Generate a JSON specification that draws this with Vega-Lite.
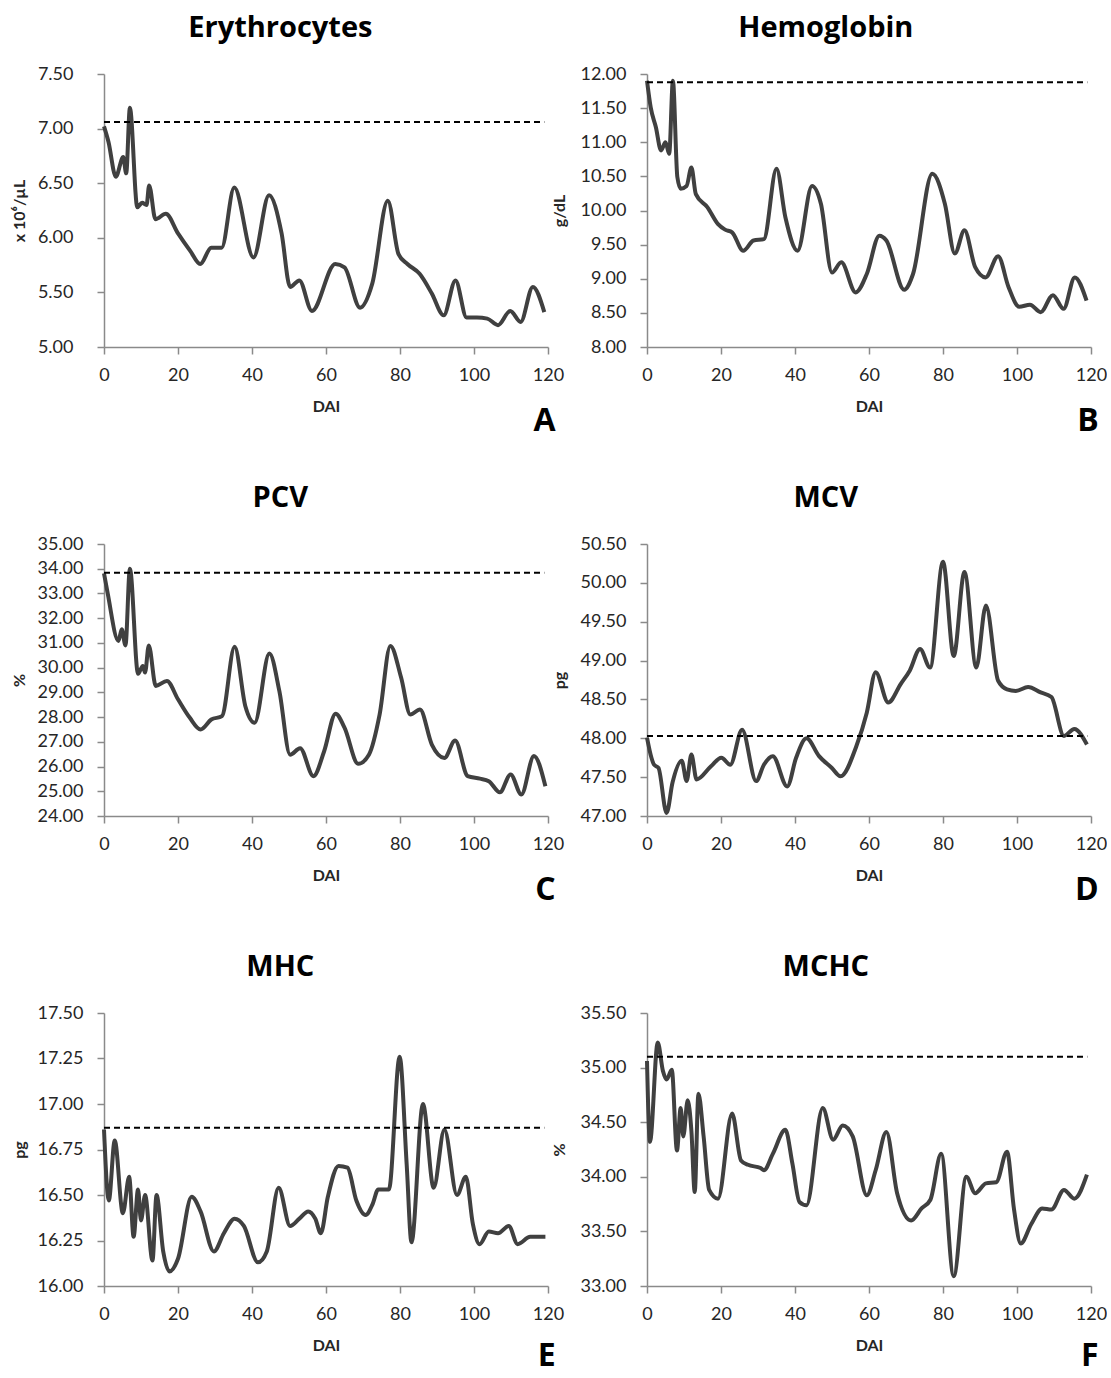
{
  "$schema": "https://vega.github.io/schema/vega-lite/v6.json",
  "padding": {"left": 11, "top": 14, "right": 0, "bottom": 5},
  "background": "white",
  "config": {
    "font": "Lato",
    "view": {"stroke": null},
    "axis": {"grid": false, "labelFlush": false, "domainColor": "#8a8a8a", "domainWidth": 1.5, "tickColor": "#8a8a8a", "tickWidth": 1.5, "tickSize": 7,
      "labelFont": "Lato", "labelFontSize": 18, "labelColor": "#262626",
      "titleFont": "Lato", "titleFontSize": 16, "titleFontWeight": "bold", "titleColor": "#262626"},
    "axisX": {"labelPadding": 12, "titlePadding": 14},
    "axisY": {"labelPadding": 14},
    "title": {"font": "Open Sans", "fontSize": 29, "fontWeight": "bold", "color": "#000000"}
  },
  "datasets": {
    "series": [
      {"panel":"A","day":0,"value":7.02},{"panel":"A","day":1.2,"value":6.88},{"panel":"A","day":3.2,"value":6.56},{"panel":"A","day":5.2,"value":6.74},{"panel":"A","day":6,"value":6.59},{"panel":"A","day":7,"value":7.19},{"panel":"A","day":9,"value":6.28},{"panel":"A","day":10.3,"value":6.32},{"panel":"A","day":11.5,"value":6.3},{"panel":"A","day":12.2,"value":6.48},{"panel":"A","day":13.9,"value":6.17},{"panel":"A","day":16.7,"value":6.22},{"panel":"A","day":20,"value":6.04},{"panel":"A","day":23.3,"value":5.88},{"panel":"A","day":26,"value":5.76},{"panel":"A","day":29,"value":5.91},{"panel":"A","day":31.8,"value":5.91},{"panel":"A","day":35.2,"value":6.46},{"panel":"A","day":40.4,"value":5.82},{"panel":"A","day":44.6,"value":6.39},{"panel":"A","day":48,"value":6.04},{"panel":"A","day":50.3,"value":5.55},{"panel":"A","day":52.8,"value":5.61},{"panel":"A","day":56.2,"value":5.33},{"panel":"A","day":62.5,"value":5.76},{"panel":"A","day":65,"value":5.73},{"panel":"A","day":69.2,"value":5.36},{"panel":"A","day":72.5,"value":5.58},{"panel":"A","day":76.7,"value":6.34},{"panel":"A","day":79.6,"value":5.85},{"panel":"A","day":82,"value":5.76},{"panel":"A","day":85.3,"value":5.67},{"panel":"A","day":88.6,"value":5.49},{"panel":"A","day":91.8,"value":5.29},{"panel":"A","day":95,"value":5.61},{"panel":"A","day":98,"value":5.27},{"panel":"A","day":100.8,"value":5.27},{"panel":"A","day":103.6,"value":5.26},{"panel":"A","day":106.5,"value":5.2},{"panel":"A","day":109.8,"value":5.33},{"panel":"A","day":112.6,"value":5.23},{"panel":"A","day":115.9,"value":5.55},{"panel":"A","day":119,"value":5.32},
      {"panel":"B","day":0,"value":11.9},{"panel":"B","day":1,"value":11.51},{"panel":"B","day":2.4,"value":11.22},{"panel":"B","day":3.8,"value":10.88},{"panel":"B","day":5,"value":11.0},{"panel":"B","day":6,"value":10.83},{"panel":"B","day":7,"value":11.9},{"panel":"B","day":8.2,"value":10.49},{"panel":"B","day":9.1,"value":10.32},{"panel":"B","day":10.7,"value":10.36},{"panel":"B","day":12,"value":10.63},{"panel":"B","day":13.2,"value":10.24},{"panel":"B","day":16.3,"value":10.05},{"panel":"B","day":19.2,"value":9.8},{"panel":"B","day":21.1,"value":9.72},{"panel":"B","day":23,"value":9.68},{"panel":"B","day":26,"value":9.41},{"panel":"B","day":28.8,"value":9.56},{"panel":"B","day":31.6,"value":9.58},{"panel":"B","day":35,"value":10.61},{"panel":"B","day":37.4,"value":9.9},{"panel":"B","day":40.7,"value":9.41},{"panel":"B","day":44.6,"value":10.36},{"panel":"B","day":47,"value":10.1},{"panel":"B","day":50,"value":9.09},{"panel":"B","day":52.5,"value":9.24},{"panel":"B","day":56.4,"value":8.8},{"panel":"B","day":59.4,"value":9.07},{"panel":"B","day":62.8,"value":9.63},{"panel":"B","day":64.7,"value":9.56},{"panel":"B","day":69.5,"value":8.84},{"panel":"B","day":71.9,"value":9.07},{"panel":"B","day":77.1,"value":10.54},{"panel":"B","day":80.5,"value":10.1},{"panel":"B","day":83.2,"value":9.37},{"panel":"B","day":85.8,"value":9.71},{"panel":"B","day":88.7,"value":9.17},{"panel":"B","day":91.5,"value":9.02},{"panel":"B","day":94.9,"value":9.33},{"panel":"B","day":97.7,"value":8.88},{"panel":"B","day":100.6,"value":8.59},{"panel":"B","day":103.5,"value":8.62},{"panel":"B","day":106.4,"value":8.51},{"panel":"B","day":109.7,"value":8.76},{"panel":"B","day":112.6,"value":8.56},{"panel":"B","day":115.6,"value":9.02},{"panel":"B","day":118.8,"value":8.68},
      {"panel":"C","day":0,"value":33.81},{"panel":"C","day":1,"value":33.0},{"panel":"C","day":3.9,"value":31.08},{"panel":"C","day":4.8,"value":31.55},{"panel":"C","day":5.8,"value":30.9},{"panel":"C","day":7,"value":34.0},{"panel":"C","day":9.2,"value":29.75},{"panel":"C","day":10.5,"value":30.07},{"panel":"C","day":11.1,"value":29.8},{"panel":"C","day":12.1,"value":30.9},{"panel":"C","day":14,"value":29.26},{"panel":"C","day":17,"value":29.46},{"panel":"C","day":20,"value":28.72},{"panel":"C","day":23.2,"value":27.97},{"panel":"C","day":26.1,"value":27.5},{"panel":"C","day":29,"value":27.9},{"panel":"C","day":31.9,"value":28.04},{"panel":"C","day":35.3,"value":30.84},{"panel":"C","day":38.2,"value":28.44},{"panel":"C","day":40.7,"value":27.77},{"panel":"C","day":44.7,"value":30.57},{"panel":"C","day":47.4,"value":29.05},{"panel":"C","day":50.3,"value":26.48},{"panel":"C","day":53,"value":26.74},{"panel":"C","day":56.6,"value":25.61},{"panel":"C","day":59.5,"value":26.62},{"panel":"C","day":62.6,"value":28.14},{"panel":"C","day":65,"value":27.57},{"panel":"C","day":68.7,"value":26.11},{"panel":"C","day":71.6,"value":26.48},{"panel":"C","day":74.5,"value":28.11},{"panel":"C","day":77.4,"value":30.88},{"panel":"C","day":80.3,"value":29.6},{"panel":"C","day":82.8,"value":28.1},{"panel":"C","day":85.4,"value":28.31},{"panel":"C","day":88.6,"value":26.89},{"panel":"C","day":92,"value":26.35},{"panel":"C","day":94.9,"value":27.05},{"panel":"C","day":98.3,"value":25.61},{"panel":"C","day":101.6,"value":25.51},{"panel":"C","day":104,"value":25.41},{"panel":"C","day":107,"value":24.96},{"panel":"C","day":109.9,"value":25.68},{"panel":"C","day":112.8,"value":24.87},{"panel":"C","day":116.2,"value":26.43},{"panel":"C","day":119.3,"value":25.2},
      {"panel":"D","day":0,"value":48.01},{"panel":"D","day":1.2,"value":47.75},{"panel":"D","day":1.9,"value":47.66},{"panel":"D","day":3.1,"value":47.62},{"panel":"D","day":5.3,"value":47.04},{"panel":"D","day":6.9,"value":47.43},{"panel":"D","day":9.4,"value":47.71},{"panel":"D","day":10.7,"value":47.45},{"panel":"D","day":12,"value":47.79},{"panel":"D","day":13.4,"value":47.47},{"panel":"D","day":17.3,"value":47.64},{"panel":"D","day":20.1,"value":47.75},{"panel":"D","day":22.5,"value":47.66},{"panel":"D","day":25.7,"value":48.11},{"panel":"D","day":29.5,"value":47.45},{"panel":"D","day":31.6,"value":47.66},{"panel":"D","day":34,"value":47.77},{"panel":"D","day":37.9,"value":47.38},{"panel":"D","day":40.3,"value":47.75},{"panel":"D","day":43.1,"value":48.0},{"panel":"D","day":46.5,"value":47.77},{"panel":"D","day":49.9,"value":47.62},{"panel":"D","day":52.3,"value":47.51},{"panel":"D","day":56.6,"value":47.9},{"panel":"D","day":59.4,"value":48.33},{"panel":"D","day":61.8,"value":48.85},{"panel":"D","day":65.2,"value":48.46},{"panel":"D","day":68.6,"value":48.7},{"panel":"D","day":71,"value":48.87},{"panel":"D","day":73.8,"value":49.15},{"panel":"D","day":76.5,"value":48.91},{"panel":"D","day":80,"value":50.27},{"panel":"D","day":82.9,"value":49.06},{"panel":"D","day":85.8,"value":50.14},{"panel":"D","day":89,"value":48.91},{"panel":"D","day":91.6,"value":49.71},{"panel":"D","day":94.9,"value":48.74},{"panel":"D","day":97.3,"value":48.63},{"panel":"D","day":99.7,"value":48.61},{"panel":"D","day":103,"value":48.66},{"panel":"D","day":106.4,"value":48.59},{"panel":"D","day":109.3,"value":48.53},{"panel":"D","day":112.7,"value":48.03},{"panel":"D","day":115.5,"value":48.12},{"panel":"D","day":118.9,"value":47.92},
      {"panel":"E","day":0,"value":16.86},{"panel":"E","day":1.3,"value":16.47},{"panel":"E","day":2.9,"value":16.8},{"panel":"E","day":5.1,"value":16.4},{"panel":"E","day":6.8,"value":16.6},{"panel":"E","day":8,"value":16.27},{"panel":"E","day":9.2,"value":16.53},{"panel":"E","day":10,"value":16.36},{"panel":"E","day":11.1,"value":16.5},{"panel":"E","day":13.1,"value":16.14},{"panel":"E","day":14.2,"value":16.5},{"panel":"E","day":16,"value":16.19},{"panel":"E","day":17.7,"value":16.08},{"panel":"E","day":20,"value":16.15},{"panel":"E","day":23.7,"value":16.49},{"panel":"E","day":26.1,"value":16.41},{"panel":"E","day":29.7,"value":16.19},{"panel":"E","day":32.4,"value":16.29},{"panel":"E","day":35.3,"value":16.37},{"panel":"E","day":37.8,"value":16.33},{"panel":"E","day":41.6,"value":16.13},{"panel":"E","day":44,"value":16.19},{"panel":"E","day":47.2,"value":16.54},{"panel":"E","day":50.3,"value":16.33},{"panel":"E","day":52.8,"value":16.37},{"panel":"E","day":55.2,"value":16.41},{"panel":"E","day":57.1,"value":16.37},{"panel":"E","day":58.6,"value":16.29},{"panel":"E","day":60.5,"value":16.49},{"panel":"E","day":63.4,"value":16.66},{"panel":"E","day":65.8,"value":16.65},{"panel":"E","day":68.2,"value":16.47},{"panel":"E","day":70.7,"value":16.39},{"panel":"E","day":72.6,"value":16.45},{"panel":"E","day":74.1,"value":16.53},{"panel":"E","day":77,"value":16.53},{"panel":"E","day":79.9,"value":17.26},{"panel":"E","day":81.8,"value":16.67},{"panel":"E","day":83.1,"value":16.24},{"panel":"E","day":86.2,"value":17.0},{"panel":"E","day":89.1,"value":16.54},{"panel":"E","day":92,"value":16.86},{"panel":"E","day":95.4,"value":16.5},{"panel":"E","day":97.8,"value":16.6},{"panel":"E","day":99.7,"value":16.34},{"panel":"E","day":101.5,"value":16.23},{"panel":"E","day":104,"value":16.3},{"panel":"E","day":106.5,"value":16.29},{"panel":"E","day":109.4,"value":16.33},{"panel":"E","day":111.8,"value":16.23},{"panel":"E","day":115.2,"value":16.27},{"panel":"E","day":119.3,"value":16.27},
      {"panel":"F","day":0,"value":35.06},{"panel":"F","day":0.8,"value":34.32},{"panel":"F","day":2.9,"value":35.23},{"panel":"F","day":4.3,"value":34.97},{"panel":"F","day":5.3,"value":34.89},{"panel":"F","day":6.7,"value":34.98},{"panel":"F","day":8.1,"value":34.24},{"panel":"F","day":9.1,"value":34.63},{"panel":"F","day":9.8,"value":34.37},{"panel":"F","day":11,"value":34.7},{"panel":"F","day":12,"value":34.42},{"panel":"F","day":12.9,"value":33.86},{"panel":"F","day":13.9,"value":34.76},{"panel":"F","day":15.3,"value":34.37},{"panel":"F","day":16.8,"value":33.88},{"panel":"F","day":19.2,"value":33.8},{"panel":"F","day":23,"value":34.58},{"panel":"F","day":25.4,"value":34.15},{"panel":"F","day":27.3,"value":34.11},{"panel":"F","day":30.7,"value":34.08},{"panel":"F","day":31.6,"value":34.06},{"panel":"F","day":34,"value":34.21},{"panel":"F","day":37.4,"value":34.43},{"panel":"F","day":39.3,"value":34.12},{"panel":"F","day":41.2,"value":33.77},{"panel":"F","day":43.1,"value":33.74},{"panel":"F","day":47.5,"value":34.63},{"panel":"F","day":50.3,"value":34.34},{"panel":"F","day":52.9,"value":34.47},{"panel":"F","day":55.6,"value":34.37},{"panel":"F","day":59.4,"value":33.83},{"panel":"F","day":61.8,"value":34.06},{"panel":"F","day":64.7,"value":34.41},{"panel":"F","day":67.6,"value":33.85},{"panel":"F","day":71.4,"value":33.6},{"panel":"F","day":74.2,"value":33.71},{"panel":"F","day":76.6,"value":33.79},{"panel":"F","day":79.5,"value":34.21},{"panel":"F","day":82.9,"value":33.09},{"panel":"F","day":86.3,"value":34.0},{"panel":"F","day":88.7,"value":33.85},{"panel":"F","day":91.6,"value":33.94},{"panel":"F","day":94.4,"value":33.95},{"panel":"F","day":97.3,"value":34.23},{"panel":"F","day":99.2,"value":33.7},{"panel":"F","day":101,"value":33.39},{"panel":"F","day":103.9,"value":33.57},{"panel":"F","day":106.8,"value":33.71},{"panel":"F","day":109.3,"value":33.7},{"panel":"F","day":112.7,"value":33.88},{"panel":"F","day":115.5,"value":33.8},{"panel":"F","day":118.9,"value":34.02}
    ],
    "refs": [
      {"panel":"A","day":0,"day2":119,"value":7.06},
      {"panel":"B","day":0,"day2":119,"value":11.88},
      {"panel":"C","day":0,"day2":119,"value":33.84},
      {"panel":"D","day":0,"day2":119,"value":48.03},
      {"panel":"E","day":0,"day2":119,"value":16.87},
      {"panel":"F","day":0,"day2":119,"value":35.1}
    ]
  },
  "spacing": 47,
  "vconcat": [
   {"spacing": -13, "hconcat": [
    {"title": {"text": "A", "orient": "bottom", "anchor": "end", "fontSize": 32, "offset": 0, "dy": -8, "dx": -8},
     "vconcat": [{
      "title": {"text": "Erythrocytes", "anchor": "middle", "frame": "bounds", "offset": 22, "dx": -7},
      "width": 444, "height": 273,
      "encoding": {
        "x": {"field": "day", "type": "quantitative", "scale": {"domain": [0, 120], "nice": false}, "axis": {"values": [0, 20, 40, 60, 80, 100, 120], "title": "DAI"}},
        "y": {"field": "value", "type": "quantitative", "scale": {"domain": [5, 7.5], "nice": false, "zero": false}, "axis": {"values": [5, 5.5, 6, 6.5, 7, 7.5], "format": ".2f", "title": "x 10⁶/µL", "labelPadding": 24, "minExtent": 70, "maxExtent": 70, "titlePadding": 7}}
      },
      "layer": [
        {"data": {"name": "series"}, "transform": [{"filter": "datum.panel === 'A'"}], "mark": {"type": "line", "interpolate": "monotone", "color": "#404040", "strokeWidth": 4}},
        {"data": {"name": "refs"}, "transform": [{"filter": "datum.panel === 'A'"}], "mark": {"type": "rule", "color": "#000000", "strokeWidth": 2, "strokeDash": [6, 4]}, "encoding": {"x2": {"field": "day2"}}}
      ]
    }]},
    {"title": {"text": "B", "orient": "bottom", "anchor": "end", "fontSize": 32, "offset": 0, "dy": -8, "dx": -8},
     "vconcat": [{
      "title": {"text": "Hemoglobin", "anchor": "middle", "frame": "bounds", "offset": 22, "dx": -3},
      "width": 444, "height": 273,
      "encoding": {
        "x": {"field": "day", "type": "quantitative", "scale": {"domain": [0, 120], "nice": false}, "axis": {"values": [0, 20, 40, 60, 80, 100, 120], "title": "DAI"}},
        "y": {"field": "value", "type": "quantitative", "scale": {"domain": [8, 12], "nice": false, "zero": false}, "axis": {"values": [8, 8.5, 9, 9.5, 10, 10.5, 11, 11.5, 12], "format": ".2f", "title": "g/dL", "minExtent": 70, "maxExtent": 70, "titlePadding": 10}}
      },
      "layer": [
        {"data": {"name": "series"}, "transform": [{"filter": "datum.panel === 'B'"}], "mark": {"type": "line", "interpolate": "monotone", "color": "#404040", "strokeWidth": 4}},
        {"data": {"name": "refs"}, "transform": [{"filter": "datum.panel === 'B'"}], "mark": {"type": "rule", "color": "#000000", "strokeWidth": 2, "strokeDash": [6, 4]}, "encoding": {"x2": {"field": "day2"}}}
      ]
    }]}
   ]},
   {"spacing": -13, "hconcat": [
    {"title": {"text": "C", "orient": "bottom", "anchor": "end", "fontSize": 32, "offset": 0, "dy": -8, "dx": -8},
     "vconcat": [{
      "title": {"text": "PCV", "anchor": "middle", "frame": "bounds", "offset": 22, "dx": -7},
      "width": 444, "height": 272,
      "encoding": {
        "x": {"field": "day", "type": "quantitative", "scale": {"domain": [0, 120], "nice": false}, "axis": {"values": [0, 20, 40, 60, 80, 100, 120], "title": "DAI"}},
        "y": {"field": "value", "type": "quantitative", "scale": {"domain": [24, 35], "nice": false, "zero": false}, "axis": {"values": [24, 25, 26, 27, 28, 29, 30, 31, 32, 33, 34, 35], "format": ".2f", "title": "%", "minExtent": 70, "maxExtent": 70, "titlePadding": 7}}
      },
      "layer": [
        {"data": {"name": "series"}, "transform": [{"filter": "datum.panel === 'C'"}], "mark": {"type": "line", "interpolate": "monotone", "color": "#404040", "strokeWidth": 4}},
        {"data": {"name": "refs"}, "transform": [{"filter": "datum.panel === 'C'"}], "mark": {"type": "rule", "color": "#000000", "strokeWidth": 2, "strokeDash": [6, 4]}, "encoding": {"x2": {"field": "day2"}}}
      ]
    }]},
    {"title": {"text": "D", "orient": "bottom", "anchor": "end", "fontSize": 32, "offset": 0, "dy": -8, "dx": -8},
     "vconcat": [{
      "title": {"text": "MCV", "anchor": "middle", "frame": "bounds", "offset": 22, "dx": -3},
      "width": 444, "height": 272,
      "encoding": {
        "x": {"field": "day", "type": "quantitative", "scale": {"domain": [0, 120], "nice": false}, "axis": {"values": [0, 20, 40, 60, 80, 100, 120], "title": "DAI"}},
        "y": {"field": "value", "type": "quantitative", "scale": {"domain": [47, 50.5], "nice": false, "zero": false}, "axis": {"values": [47, 47.5, 48, 48.5, 49, 49.5, 50, 50.5], "format": ".2f", "title": "pg", "minExtent": 70, "maxExtent": 70, "titlePadding": 10}}
      },
      "layer": [
        {"data": {"name": "series"}, "transform": [{"filter": "datum.panel === 'D'"}], "mark": {"type": "line", "interpolate": "monotone", "color": "#404040", "strokeWidth": 4}},
        {"data": {"name": "refs"}, "transform": [{"filter": "datum.panel === 'D'"}], "mark": {"type": "rule", "color": "#000000", "strokeWidth": 2, "strokeDash": [6, 4]}, "encoding": {"x2": {"field": "day2"}}}
      ]
    }]}
   ]},
   {"spacing": -13, "hconcat": [
    {"title": {"text": "E", "orient": "bottom", "anchor": "end", "fontSize": 32, "offset": 0, "dy": -12, "dx": -8},
     "vconcat": [{
      "title": {"text": "MHC", "anchor": "middle", "frame": "bounds", "offset": 22, "dx": -7},
      "width": 444, "height": 273,
      "encoding": {
        "x": {"field": "day", "type": "quantitative", "scale": {"domain": [0, 120], "nice": false}, "axis": {"values": [0, 20, 40, 60, 80, 100, 120], "title": "DAI"}},
        "y": {"field": "value", "type": "quantitative", "scale": {"domain": [16, 17.5], "nice": false, "zero": false}, "axis": {"values": [16, 16.25, 16.5, 16.75, 17, 17.25, 17.5], "format": ".2f", "title": "pg", "minExtent": 70, "maxExtent": 70, "titlePadding": 7}}
      },
      "layer": [
        {"data": {"name": "series"}, "transform": [{"filter": "datum.panel === 'E'"}], "mark": {"type": "line", "interpolate": "monotone", "color": "#404040", "strokeWidth": 4}},
        {"data": {"name": "refs"}, "transform": [{"filter": "datum.panel === 'E'"}], "mark": {"type": "rule", "color": "#000000", "strokeWidth": 2, "strokeDash": [6, 4]}, "encoding": {"x2": {"field": "day2"}}}
      ]
    }]},
    {"title": {"text": "F", "orient": "bottom", "anchor": "end", "fontSize": 32, "offset": 0, "dy": -12, "dx": -8},
     "vconcat": [{
      "title": {"text": "MCHC", "anchor": "middle", "frame": "bounds", "offset": 22, "dx": -3},
      "width": 444, "height": 273,
      "encoding": {
        "x": {"field": "day", "type": "quantitative", "scale": {"domain": [0, 120], "nice": false}, "axis": {"values": [0, 20, 40, 60, 80, 100, 120], "title": "DAI"}},
        "y": {"field": "value", "type": "quantitative", "scale": {"domain": [33, 35.5], "nice": false, "zero": false}, "axis": {"values": [33, 33.5, 34, 34.5, 35, 35.5], "format": ".2f", "title": "%", "minExtent": 70, "maxExtent": 70, "titlePadding": 10}}
      },
      "layer": [
        {"data": {"name": "series"}, "transform": [{"filter": "datum.panel === 'F'"}], "mark": {"type": "line", "interpolate": "monotone", "color": "#404040", "strokeWidth": 4}},
        {"data": {"name": "refs"}, "transform": [{"filter": "datum.panel === 'F'"}], "mark": {"type": "rule", "color": "#000000", "strokeWidth": 2, "strokeDash": [6, 4]}, "encoding": {"x2": {"field": "day2"}}}
      ]
    }]}
   ]}
  ]
}
